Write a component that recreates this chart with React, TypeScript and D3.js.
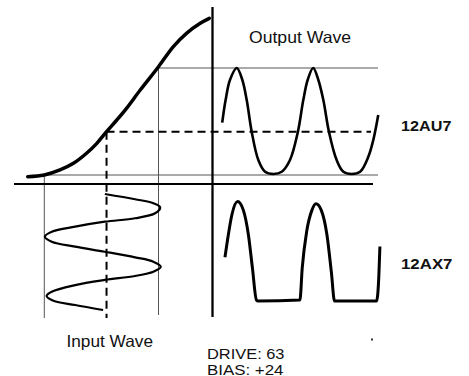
import React from "react";
import * as d3 from "d3";

// ---- Data ----
// Tube transfer curve: input grid voltage (normalised) -> output level (normalised)
const transferV = [-1.29, -1.0, -0.725, -0.49, -0.26, -0.08, 0.09, 0.27, 0.44, 0.68, 1.0, 1.26, 1.49, 1.73, 1.89];
const transferOut = [-0.016, 0, 0.047, 0.109, 0.203, 0.296, 0.405, 0.514, 0.623, 0.794, 1.012, 1.2, 1.324, 1.418, 1.464];

// Input wave: phase (degrees) -> input voltage
const inputPhase = [9, 41, 65, 90, 126, 156, 177, 207, 238, 268, 298, 328, 359, 393, 419, 450, 480, 506, 530, 561, 601, 627, 656, 682, 712];
const inputV = [0.06, 0.59, 0.91, 1.03, 0.94, 0.59, 0.06, -0.46, -0.87, -0.99, -0.87, -0.46, 0.06, 0.59, 0.91, 1.04, 0.91, 0.59, 0.06, -0.46, -0.87, -0.96, -0.84, -0.46, 0.03];

// Output wave (12AU7): phase (degrees) -> output level
const au7Phase = [20, 36, 57, 89, 115, 136, 160, 191, 223, 262, 302, 341, 378, 404, 425, 451, 475, 499, 526, 562, 594, 633, 673, 712, 736, 759];
const au7Level = [0.49, 0.7, 0.89, 1.0, 0.89, 0.7, 0.4, 0.14, 0.03, 0.01, 0.03, 0.14, 0.4, 0.7, 0.89, 1.0, 0.89, 0.7, 0.4, 0.14, 0.03, 0.01, 0.03, 0.17, 0.33, 0.56];

// Output wave (12AX7): phase (degrees) -> output level (clipped)
const ax7Phase = [33, 49, 65, 93, 120, 144, 163, 182, 190, 388, 399, 420, 445, 464, 489, 516, 537, 552, 751, 762, 767];
const ax7Level = [0.4, 0.61, 0.79, 0.92, 0.84, 0.61, 0.3, 0, -0.01, 0, 0.3, 0.64, 0.84, 0.9, 0.84, 0.61, 0.26, -0.01, -0.01, 0.23, 0.5];

// Operating point (bias)
const biasV = [0.09];
const biasOut = [0.405];

// Labels
const titleOutput = "Output Wave";
const titleInput = "Input Wave";
const tubeLabels = ["12AU7", "12AX7"];
const settingLabels = ["DRIVE: 63", "BIAS: +24"];

const W = 469;
const H = 376;
const FONT = "'Liberation Sans', Arial, Helvetica, sans-serif";

export default function App() {
  const vScale = d3.scaleLinear().domain([-1, 1]).range([44.3, 158.5]);
  const outScale = d3.scaleLinear().domain([0, 1]).range([175, 68]);
  const tOut = d3.scaleLinear().domain([0, 720]).range([218, 370]);
  const tIn = d3.scaleLinear().domain([0, 720]).range([192.5, 311.3]);
  const ax7Scale = d3.scaleLinear().domain([0, 1]).range([300, 193]);

  const axisY = 184;
  const axisX = 212.5;
  const bottomY = 318;
  const rightEnd = 378;

  const cr = d3.line<[number, number]>().curve(d3.curveCatmullRom.alpha(0.5));
  const mono = d3.line<[number, number]>().curve(d3.curveMonotoneX);

  const transferPath = cr(transferV.map((v, i) => [vScale(v), outScale(transferOut[i])]));
  const inputPath = cr(inputPhase.map((p, i) => [vScale(inputV[i]), tIn(p)]));
  const au7Path = cr(au7Phase.map((p, i) => [tOut(p), outScale(au7Level[i])]));
  const ax7Path = mono(ax7Phase.map((p, i) => [tOut(p), ax7Scale(ax7Level[i])]));

  const bx = vScale(biasV[0]);
  const by = outScale(biasOut[0]);

  const thin = { stroke: "#555", strokeWidth: 1, fill: "none" } as const;

  return (
    <svg
      width={W}
      height={H}
      style={{ position: "absolute", left: 0, top: 0, background: "#fff", display: "block" }}
    >
      <rect x={0} y={0} width={W} height={H} fill="#fff" />
      {/* thin guide lines */}
      <line x1={vScale(-1)} x2={rightEnd} y1={outScale(0)} y2={outScale(0)} {...thin} />
      <line x1={vScale(1)} x2={rightEnd} y1={outScale(1)} y2={outScale(1)} {...thin} />
      <line x1={vScale(-1)} x2={vScale(-1)} y1={outScale(0)} y2={bottomY} {...thin} />
      <line x1={vScale(1)} x2={vScale(1)} y1={outScale(1)} y2={bottomY - 3} {...thin} />

      {/* dashed bias lines */}
      <line x1={bx} x2={371} y1={by} y2={by} stroke="#000" strokeWidth={2} strokeDasharray="8,5" />
      <line x1={bx} x2={bx} y1={by} y2={bottomY} stroke="#000" strokeWidth={2} strokeDasharray="8,5" />

      {/* main axes */}
      <line x1={14} x2={373} y1={axisY} y2={axisY} stroke="#000" strokeWidth={2} />
      <line x1={axisX} x2={axisX} y1={7} y2={bottomY - 1} stroke="#000" strokeWidth={2.3} />

      {/* curves */}
      <path d={transferPath || ""} fill="none" stroke="#000" strokeWidth={3.5} strokeLinecap="round" />
      <path d={inputPath || ""} fill="none" stroke="#000" strokeWidth={2.2} />
      <path d={au7Path || ""} fill="none" stroke="#000" strokeWidth={2.6} />
      <path d={ax7Path || ""} fill="none" stroke="#000" strokeWidth={3} />

      {/* labels */}
      <g fontFamily={FONT} fill="#111">
        <text x={249} y={43} fontSize={16.5} textLength={102} lengthAdjust="spacingAndGlyphs">
          {titleOutput}
        </text>
        <text x={66.5} y={346.7} fontSize={16.5} textLength={86.5} lengthAdjust="spacingAndGlyphs">
          {titleInput}
        </text>
        <text x={401} y={130.7} fontSize={15} fontWeight="bold" textLength={50.5} lengthAdjust="spacingAndGlyphs">
          {tubeLabels[0]}
        </text>
        <text x={401} y={269.3} fontSize={15} fontWeight="bold" textLength={51.5} lengthAdjust="spacingAndGlyphs">
          {tubeLabels[1]}
        </text>
        <text x={207} y={359} fontSize={15.5} textLength={77.5} lengthAdjust="spacingAndGlyphs">
          {settingLabels[0]}
        </text>
        <text x={207} y={374.8} fontSize={15.5} textLength={76.5} lengthAdjust="spacingAndGlyphs">
          {settingLabels[1]}
        </text>
      </g>
      <rect x={371} y={338.5} width={2} height={2} fill="#333" />
    </svg>
  );
}
